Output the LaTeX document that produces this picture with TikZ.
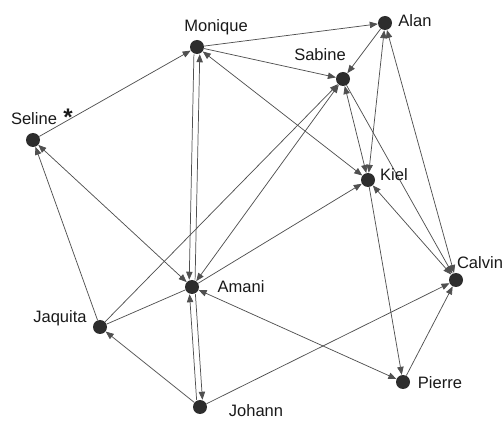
\documentclass[tikz,border=0pt]{standalone}
\usepackage{fontspec}
\setmainfont{Liberation Sans}
\usetikzlibrary{arrows.meta}

\begin{document}
\begin{tikzpicture}[x=0.75pt,y=0.75pt,yscale=-1,xscale=1,
  >={Triangle[length=6pt,width=4.8pt]},
  actor/.style={circle,fill={rgb, 255:red, 45; green, 45; blue, 45 },minimum size=10.5pt,inner sep=0pt},
  actorlbl/.style={font=\fontsize{12.4}{14}\selectfont,inner sep=0pt,text={rgb, 255:red, 25; green, 25; blue, 25 }},
  tie/.style={draw={rgb, 255:red, 80; green, 80; blue, 80 },line width=0.55pt}]
\path[use as bounding box] (0,0) rectangle (504,424);

%Shape: Circle
\node (monique) at (197,47) [actor] {};
\node (alan) at (385,23) [actor] {};
\node (sabine) at (343,79) [actor] {};
\node (seline) at (33,140) [actor] {};
\node (kiel) at (368,180) [actor] {};
\node (amani) at (192,287) [actor] {};
\node (calvin) at (456,280) [actor] {};
\node (jaquita) at (100,327) [actor] {};
\node (pierre) at (403,382) [actor] {};
\node (johann) at (200,407) [actor] {};

%Straight Lines
\draw [tie,->] (seline) -- (monique) ;
\draw [tie,->] (monique) -- (alan) ;
\draw [tie,->] (monique) -- (sabine) ;
\draw [tie,<->] (monique) -- (kiel) ;
\draw [tie,->,transform canvas={xshift=-2.2pt}] (monique) -- (amani) ;
\draw [tie,->,transform canvas={xshift=2.2pt}] (amani) -- (monique) ;
%Straight Lines
\draw [tie,<->] (seline) -- (amani) ;
\draw [tie,->] (jaquita) -- (seline) ;
\draw [tie,->] (jaquita) -- (sabine) ;
\draw [tie] (jaquita) -- (amani) ;
\draw [tie,->] (johann) -- (jaquita) ;
\draw [tie,->,transform canvas={xshift=-2.2pt}] (johann) -- (amani) ;
\draw [tie,->,transform canvas={xshift=2.2pt}] (amani) -- (johann) ;
\draw [tie,->] (johann) -- (calvin) ;
%Straight Lines
\draw [tie,<->] (amani) -- (pierre) ;
\draw [tie,->] (amani) -- (kiel) ;
\draw [tie,<->] (amani) -- (sabine) ;
\draw [tie,->] (alan) -- (sabine) ;
\draw [tie,<->] (alan) -- (kiel) ;
\draw [tie,<->] (sabine) -- (kiel) ;
\draw [tie,->] (sabine) -- (calvin) ;
\draw [tie,<->] (alan) -- (calvin) ;
\draw [tie,<->] (kiel) -- (calvin) ;
\draw [tie,->] (kiel) -- (pierre) ;
\draw [tie,->] (pierre) -- (calvin) ;

% Text Node
\node (moniquetxt) at (216,27) [actorlbl] {Monique};
% Text Node
\node (alantxt) at (415,21) [actorlbl] {Alan};
% Text Node
\node (sabinetxt) at (320,55) [actorlbl] {Sabine};
% Text Node
\node (selinetxt) at (34,119) [actorlbl] {Seline};
% Text Node
\node (selinestar) at (68,117) [actorlbl,font=\fontsize{18}{18}\bfseries] {*};
% Text Node
\node (kieltxt) at (394,175) [actorlbl] {Kiel};
% Text Node
\node (amanitxt) at (241,287) [actorlbl] {Amani};
% Text Node
\node (calvintxt) at (480,263) [actorlbl] {Calvin};
% Text Node
\node (jaquitatxt) at (60,318) [actorlbl] {Jaquita};
% Text Node
\node (pierretxt) at (440,383) [actorlbl] {Pierre};
% Text Node
\node (johanntxt) at (256,411) [actorlbl] {Johann};
\end{tikzpicture}
\end{document}
